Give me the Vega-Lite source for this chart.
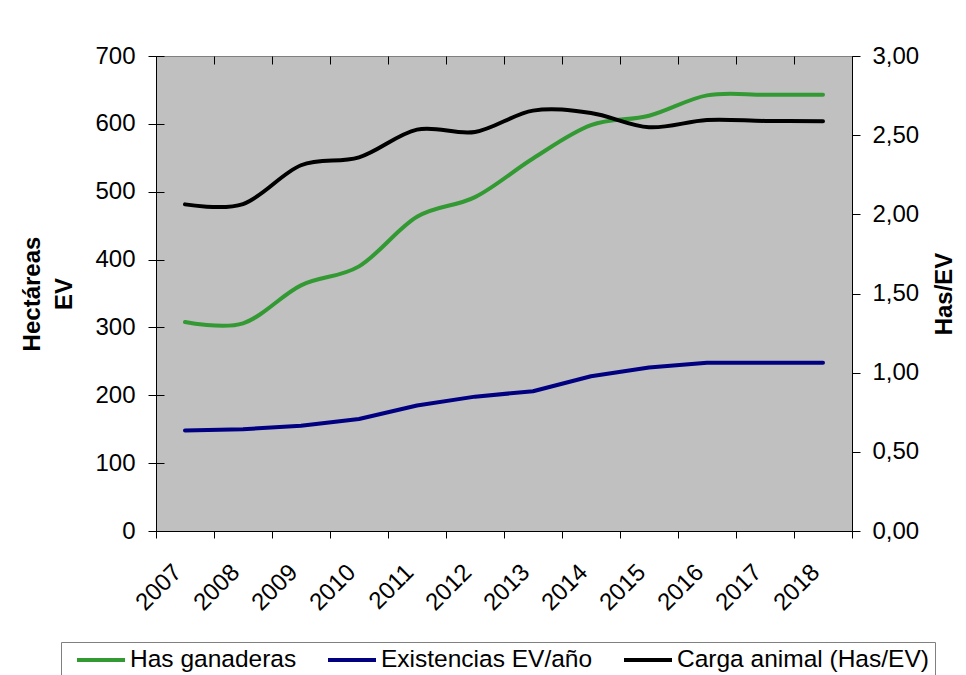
{
  "$schema": "https://vega.github.io/schema/vega-lite/v6.json",
  "width": 696,
  "height": 475,
  "autosize": "none",
  "padding": {"left": 156, "top": 56, "right": 114, "bottom": 144},
  "background": "#ffffff",
  "config": {
    "font": "Liberation Sans",
    "view": {"fill": "#C0C0C0", "stroke": "#808080", "strokeWidth": 1},
    "axis": {
      "domainColor": "#000000",
      "domainWidth": 1,
      "tickColor": "#000000",
      "tickWidth": 1,
      "tickSize": 8,
      "labelColor": "#000000",
      "labelFont": "Liberation Sans",
      "labelFontSize": 24,
      "titleColor": "#000000",
      "titleFont": "Liberation Sans",
      "titleFontSize": 24,
      "titleFontWeight": "bold",
      "grid": true,
      "gridColor": "#000000",
      "gridWidth": 1,
      "gridDash": [8, 2000]
    },
    "legend": {
      "orient": "none",
      "direction": "horizontal",
      "legendX": -95,
      "legendY": 586,
      "title": null,
      "symbolType": "stroke",
      "symbolSize": 2304,
      "symbolStrokeWidth": 4,
      "labelFont": "Liberation Sans",
      "labelFontSize": 24.5,
      "labelColor": "#000000",
      "labelOffset": 3,
      "symbolOffset": 8,
      "columnPadding": 21,
      "padding": 6,
      "strokeColor": "#808080",
      "clipHeight": 24,
      "labelLimit": 400
    }
  },
  "data": {
    "values": [
      {"year": 2007, "series": "Has ganaderas", "value": 308},
      {"year": 2008, "series": "Has ganaderas", "value": 306},
      {"year": 2009, "series": "Has ganaderas", "value": 362},
      {"year": 2010, "series": "Has ganaderas", "value": 390},
      {"year": 2011, "series": "Has ganaderas", "value": 463},
      {"year": 2012, "series": "Has ganaderas", "value": 492},
      {"year": 2013, "series": "Has ganaderas", "value": 549},
      {"year": 2014, "series": "Has ganaderas", "value": 598},
      {"year": 2015, "series": "Has ganaderas", "value": 612},
      {"year": 2016, "series": "Has ganaderas", "value": 642},
      {"year": 2017, "series": "Has ganaderas", "value": 643},
      {"year": 2018, "series": "Has ganaderas", "value": 643},
      {"year": 2007, "series": "Existencias EV/año", "value": 148},
      {"year": 2008, "series": "Existencias EV/año", "value": 150},
      {"year": 2009, "series": "Existencias EV/año", "value": 155},
      {"year": 2010, "series": "Existencias EV/año", "value": 165},
      {"year": 2011, "series": "Existencias EV/año", "value": 185},
      {"year": 2012, "series": "Existencias EV/año", "value": 198},
      {"year": 2013, "series": "Existencias EV/año", "value": 206},
      {"year": 2014, "series": "Existencias EV/año", "value": 228},
      {"year": 2015, "series": "Existencias EV/año", "value": 241},
      {"year": 2016, "series": "Existencias EV/año", "value": 248},
      {"year": 2017, "series": "Existencias EV/año", "value": 248},
      {"year": 2018, "series": "Existencias EV/año", "value": 248},
      {"year": 2007, "series": "Carga animal (Has/EV)", "value": 2.063},
      {"year": 2008, "series": "Carga animal (Has/EV)", "value": 2.065},
      {"year": 2009, "series": "Carga animal (Has/EV)", "value": 2.31},
      {"year": 2010, "series": "Carga animal (Has/EV)", "value": 2.36},
      {"year": 2011, "series": "Carga animal (Has/EV)", "value": 2.535},
      {"year": 2012, "series": "Carga animal (Has/EV)", "value": 2.52},
      {"year": 2013, "series": "Carga animal (Has/EV)", "value": 2.655},
      {"year": 2014, "series": "Carga animal (Has/EV)", "value": 2.64},
      {"year": 2015, "series": "Carga animal (Has/EV)", "value": 2.55},
      {"year": 2016, "series": "Carga animal (Has/EV)", "value": 2.596},
      {"year": 2017, "series": "Carga animal (Has/EV)", "value": 2.59},
      {"year": 2018, "series": "Carga animal (Has/EV)", "value": 2.588}
    ]
  },
  "encoding": {
    "x": {
      "field": "year",
      "type": "ordinal",
      "scale": {"type": "band", "paddingInner": 0, "paddingOuter": 0},
      "axis": {
        "title": null,
        "labelAngle": -45,
        "labelAlign": "right",
        "labelBaseline": "top",
        "labelOffset": -16,
        "labelPadding": 22,
        "tickSize": 7,
        "tickBand": "extent"
      }
    },
    "color": {
      "field": "series",
      "type": "nominal",
      "scale": {
        "domain": ["Has ganaderas", "Existencias EV/año", "Carga animal (Has/EV)"],
        "range": ["#339933", "#000080", "#000000"]
      }
    }
  },
  "layer": [
    {
      "layer": [
        {
          "transform": [{"filter": "datum.series === 'Has ganaderas'"}],
          "mark": {"type": "line", "interpolate": "cardinal", "tension": 0, "strokeWidth": 4, "strokeCap": "round"}
        },
        {
          "transform": [{"filter": "datum.series === 'Existencias EV/año'"}],
          "mark": {"type": "line", "strokeWidth": 4, "strokeCap": "round", "strokeJoin": "round"}
        }
      ],
      "encoding": {
        "y": {
          "field": "value",
          "type": "quantitative",
          "scale": {"domain": [0, 700]},
          "axis": {
            "orient": "left",
            "values": [0, 100, 200, 300, 400, 500, 600, 700],
            "title": ["Hectáreas", "EV"],
            "titleLineHeight": 32,
            "labelPadding": 13,
            "titlePadding": 18
          }
        }
      }
    },
    {
      "transform": [{"filter": "datum.series === 'Carga animal (Has/EV)'"}],
      "mark": {"type": "line", "interpolate": "cardinal", "tension": 0, "strokeWidth": 4, "strokeCap": "round"},
      "encoding": {
        "y": {
          "field": "value",
          "type": "quantitative",
          "scale": {"domain": [0, 3]},
          "axis": {
            "orient": "right",
            "values": [0, 0.5, 1, 1.5, 2, 2.5, 3],
            "labelExpr": "replace(format(datum.value, '.2f'), '.', ',')",
            "title": "Has/EV",
            "titleAngle": -90,
            "titleBaseline": "top",
            "labelPadding": 12,
            "titlePadding": 14
          }
        }
      }
    }
  ],
  "resolve": {"scale": {"y": "independent"}}
}
